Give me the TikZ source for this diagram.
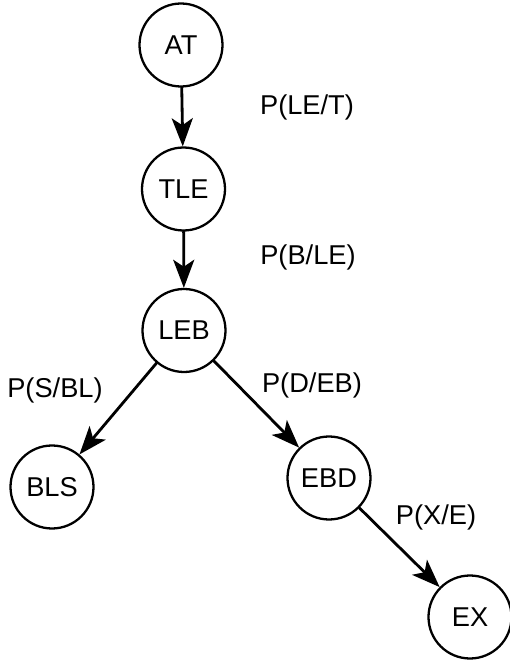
\documentclass[tikz,border=0pt]{standalone}
\usepackage{fontspec}
\setmainfont{Liberation Sans}
\usetikzlibrary{arrows.meta}
\begin{document}
\begin{tikzpicture}[line join=round, line cap=round, >={Stealth[length=16pt, width=12pt, inset=4pt]}, font=\fontsize{15.5}{17}\selectfont, scale=1,
	state/.style={draw, circle, line width=1.3pt, minimum size=1.66cm, inner sep=0pt},
	link/.style={->, line width=1.6pt}]
			\useasboundingbox (0,0) rectangle (10.2,13.24);
			
			\node[state] (AT) at (3.62,12.34) {AT};
			\node[state] (TLE) at (3.67,9.46) {TLE};
			\node[state] (LEB) at (3.68,6.63) {LEB};
			\node[state] (BLS) at (1.04,3.50) {BLS};
			\node[state] (EBD) at (6.58,3.68) {EBD};
			\node[state] (EX) at (9.40,0.90) {EX};
			
			\draw[link] (AT)--(TLE);
			\draw[link] (TLE)--(LEB);
			\draw[link] (LEB)--(BLS);
			\draw[link] (LEB)--(EBD);
			\draw[link] (EBD)--(EX);
			
			\foreach \p/\t in {{(6.14,11.10)}/{P(LE/T)}, {(6.16,8.10)}/{P(B/LE)}, {(1.10,5.44)}/{P(S/BL)}, {(6.24,5.54)}/{P(D/EB)}, {(8.72,2.90)}/{P(X/E)}}
			\node at \p {\t};
		\end{tikzpicture}
\end{document}
